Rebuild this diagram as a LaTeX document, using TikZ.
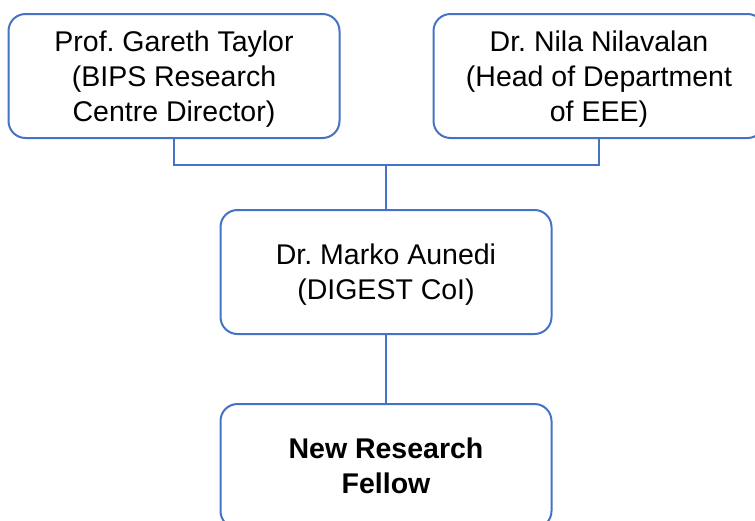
\documentclass[tikz,border=0pt]{standalone}
\usepackage{fontspec}
\setmainfont{Liberation Sans}
\usepackage{tikz}
\definecolor{boxblue}{RGB}{68,114,196}
\frenchspacing

\begin{document}
\begin{tikzpicture}[x=1pt, y=-1pt, every node/.style={rectangle, rounded corners=17pt, draw=boxblue, line width=2pt, minimum width=331pt, minimum height=124pt, align=center, text depth=0pt, font=\fontsize{28.5}{35}\selectfont}]
  \useasboundingbox (0,0) rectangle (755,520);
  \clip (0,0) rectangle (755,520);
  \node (gt) at (174,76) {Prof. Gareth Taylor\\(BIPS Research\\Centre Director)};
  \node (nn) at (599,76) {Dr. Nila Nilavalan\\(Head of Department\\of EEE)};
  \node (ma) at (386,272) {Dr. Marko Aunedi\\(DIGEST CoI)};
  \node (nf) at (386,466) {\bfseries New Research\\\bfseries Fellow};
  \coordinate (j) at (386,165);
  \draw [boxblue, line width=2pt] (gt.south) |- (j) -| (nn.south);
  \draw [boxblue, line width=2pt] (j) -- (ma);
  \draw [boxblue, line width=2pt] (ma) -- (nf);
\end{tikzpicture}
\end{document}
